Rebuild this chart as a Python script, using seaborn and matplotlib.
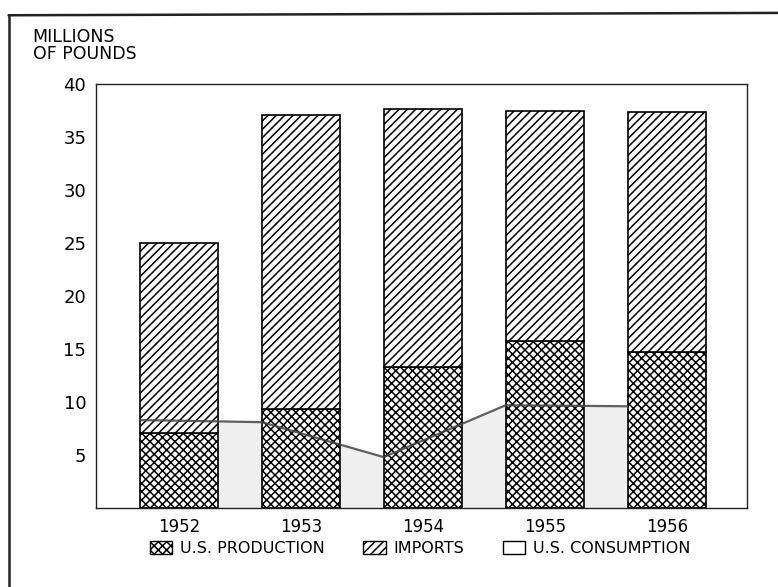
import pandas as pd
import matplotlib
matplotlib.use('Agg')
import matplotlib.pyplot as plt
import matplotlib.patches as mpatches
import seaborn as sns

sns.set_style('white')
plt.rcParams['font.family'] = ['DejaVu Sans']
plt.rcParams['text.color'] = 'black'
plt.rcParams['xtick.color'] = 'black'
plt.rcParams['ytick.color'] = 'black'
plt.rcParams['hatch.linewidth'] = 1.1

# data (millions of pounds)
years = ['1952', '1953', '1954', '1955', '1956']
production = [7.1, 9.3, 13.3, 15.8, 14.7]
totals = [25.0, 37.1, 37.7, 37.5, 37.4]
imports = [t - p for t, p in zip(totals, production)]
consumption = [8.3, 8.1, 4.8, 9.7, 9.6]

df = pd.DataFrame({'year': years, 'production': production, 'imports': imports})
bar_w = 0.64

fig = plt.figure(figsize=(7.78, 5.87), dpi=100)
ax = fig.add_axes([0.1234, 0.1346, 0.837, 0.722])

# consumption area, drawn behind the bars starting at each bar's left edge
xs = [i - bar_w / 2 for i in range(len(years))]
ax.fill_between(xs, 0, consumption, color='#efefef', lw=0, zorder=0)

sns.barplot(data=df, x='year', y='production', color='white', edgecolor='black',
            hatch='xxxx', linewidth=1.2, width=bar_w, ax=ax, zorder=2)
sns.barplot(data=df, x='year', y='imports', bottom=df['production'], color='white',
            edgecolor='black', hatch='////', linewidth=1.2, width=bar_w, ax=ax, zorder=2)

ax.plot(xs, consumption, color='#444444', lw=1.6, zorder=3, alpha=0.85)

ax.set_xlim(-0.68, 4.66)
ax.set_ylim(0, 40)
ax.set_yticks([5, 10, 15, 20, 25, 30, 35, 40])
ax.set_xlabel('')
ax.set_ylabel('')
ax.tick_params(axis='y', direction='in', length=9, width=0.8, pad=7, labelsize=13)
ax.tick_params(axis='x', length=0, pad=7, labelsize=12)
for s in ax.spines.values():
    s.set_visible(True)
    s.set_color('#222222')
    s.set_linewidth(1.0)

fig.text(0.042, 0.952, 'MILLIONS\nOF POUNDS', fontsize=12.5, va='top', ha='left',
         linespacing=0.95)

# outer frame of the figure
fig.add_artist(plt.Line2D([0.011, 0.011], [0.0, 0.974], color='#222222', lw=1.8))
fig.add_artist(plt.Line2D([0.011, 1.0], [0.974, 0.978], color='#222222', lw=1.8))

handles = [
    mpatches.Patch(facecolor='white', edgecolor='black', hatch='xxxx', label='U.S. PRODUCTION'),
    mpatches.Patch(facecolor='white', edgecolor='black', hatch='////', label='IMPORTS'),
    mpatches.Patch(facecolor='white', edgecolor='black', label='U.S. CONSUMPTION'),
]
fig.legend(handles=handles, loc='center', bbox_to_anchor=(0.54, 0.066), ncol=3,
           frameon=False, fontsize=11.5, handlelength=1.4, handleheight=0.9,
           handletextpad=0.5, columnspacing=2.4)

fig.savefig('out.png', dpi=100)
